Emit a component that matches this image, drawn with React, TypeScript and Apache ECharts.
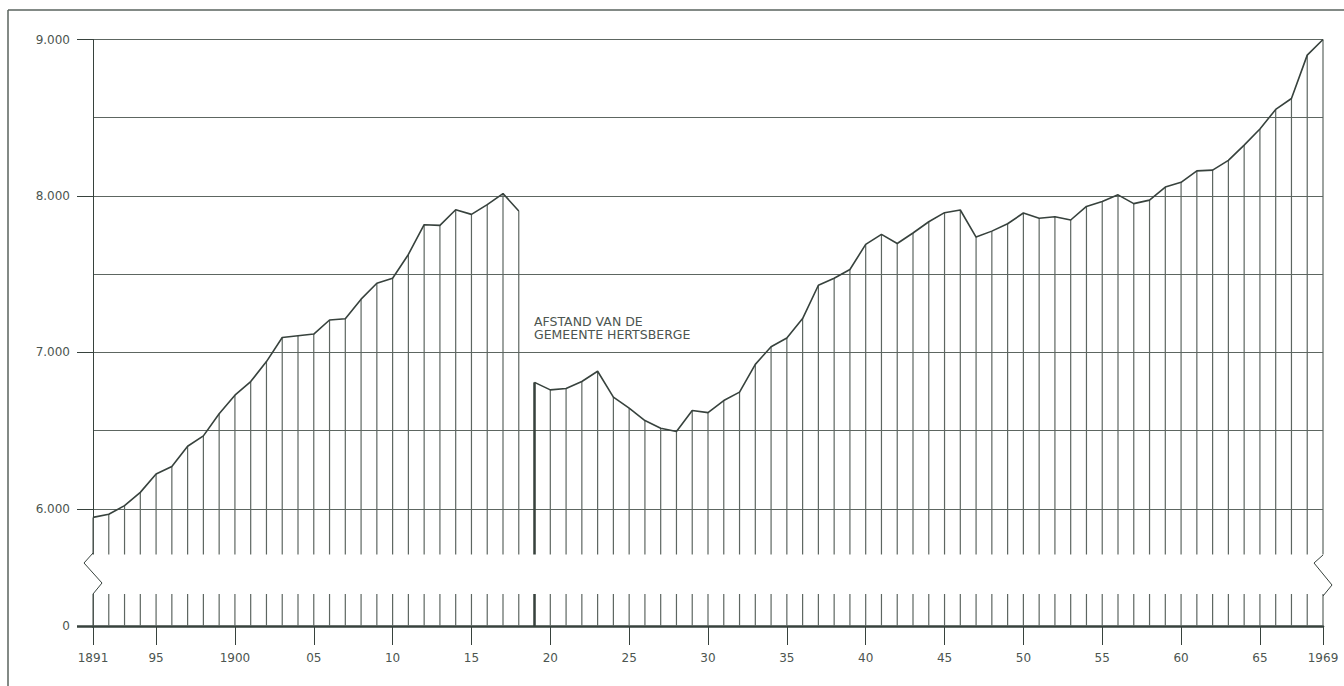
import React, { useEffect, useRef } from 'react';
import * as echarts from 'echarts';

// ---- data -------------------------------------------------------------
const years: string[] = [];
for (let y = 1891; y <= 1969; y++) years.push(String(y));

// inhabitants 1891 - 1918
const popBefore = [
  5945, 5965, 6020, 6105, 6222, 6270, 6400, 6466, 6608, 6726,
  6813, 6941, 7095, 7106, 7117, 7207, 7215, 7340, 7442, 7474,
  7626, 7816, 7812, 7912, 7882, 7944, 8015, 7904,
];
// inhabitants 1919 - 1969 (after the cession by Hertsberge)
const popAfter = [
  6808, 6760, 6769, 6814, 6879, 6714, 6643, 6564, 6515, 6494,
  6628, 6615, 6692, 6746, 6923, 7036, 7092, 7216, 7429, 7474,
  7530, 7690, 7754, 7696, 7763, 7835, 7893, 7910, 7737, 7775,
  7822, 7891, 7857, 7867, 7846, 7933, 7965, 8007, 7951, 7973,
  8057, 8087, 8160, 8165, 8227, 8325, 8428, 8553, 8623, 8900,
  9000,
];

const yTickValues = [6000, 7000, 8000, 9000];
const yTickLabels = ['6.000', '7.000', '8.000', '9.000'];
const xTickYears = ['1891', '1895', '1900', '1905', '1910', '1915', '1920', '1925', '1930',
  '1935', '1940', '1945', '1950', '1955', '1960', '1965', '1969'];
const xTickLabels = ['1891', '95', '1900', '05', '10', '15', '20', '25', '30',
  '35', '40', '45', '50', '55', '60', '65', '1969'];
const noteLines = ['AFSTAND VAN DE', 'GEMEENTE HERTSBERGE'];

// ---- styles -----------------------------------------------------------
const LINE = '#37423d';
const GRID = '#5d6661';
const TEXT = '#4c5550';
const FONT = 'DejaVu Sans, sans-serif';

export default function App() {
  const ref = useRef<HTMLDivElement>(null);

  useEffect(() => {
    if (!ref.current) return;
    const chart = echarts.init(ref.current, null, { renderer: 'svg' });

    const allValues = popBefore.concat(popAfter);
    const lineA = popBefore.slice();
    const lineB = (new Array(popBefore.length).fill(null) as (number | null)[]).concat(popAfter);
    const cessionYear = years[popBefore.length];

    const isTickYear = (_i: number, v: string) => xTickYears.indexOf(String(v)) >= 0;

    chart.setOption({
      animation: false,
      backgroundColor: '#ffffff',
      grid: [
        { left: 93, width: 1230, top: 39.5, height: 547.5 },
        { left: 93, width: 1230, top: 594, height: 32 },
      ],
      xAxis: [
        { gridIndex: 0, type: 'category', data: years, boundaryGap: false, show: false },
        {
          gridIndex: 1, type: 'category', data: years, boundaryGap: false,
          axisLine: { show: true, lineStyle: { color: LINE, width: 2.5 } },
          axisTick: { show: true, interval: isTickYear, length: 19, lineStyle: { color: LINE, width: 1 } },
          axisLabel: {
            interval: isTickYear,
            formatter: (v: string) => xTickLabels[xTickYears.indexOf(String(v))] ?? '',
            margin: 26, color: TEXT, fontFamily: FONT, fontSize: 12,
          },
          splitLine: { show: false },
        },
      ],
      yAxis: [
        {
          gridIndex: 0, type: 'value', min: 5500, max: 9000, interval: 500, position: 'left',
          axisLine: { show: true, lineStyle: { color: LINE, width: 1 } },
          axisTick: { show: true, customValues: yTickValues, length: 16, lineStyle: { color: LINE, width: 1 } },
          axisLabel: {
            customValues: yTickValues,
            formatter: (v: number) => yTickLabels[yTickValues.indexOf(v)] ?? '',
            margin: 23, color: TEXT, fontFamily: FONT, fontSize: 12,
          },
          splitLine: { show: false },
        },
        {
          gridIndex: 1, type: 'value', min: 0, max: 200, position: 'left',
          axisLine: { show: true, lineStyle: { color: LINE, width: 1 } },
          axisTick: { show: true, customValues: [0], length: 16, lineStyle: { color: LINE, width: 2.5 } },
          axisLabel: {
            customValues: [0], formatter: () => '0',
            margin: 23, color: TEXT, fontFamily: FONT, fontSize: 12,
          },
          splitLine: { show: false },
        },
        {
          // grid lines every 500 inhabitants
          gridIndex: 0, type: 'value', min: 5500, max: 9000, interval: 500, position: 'right',
          axisLine: { show: false }, axisTick: { show: false }, axisLabel: { show: false },
          splitLine: { show: true, showMinLine: false, lineStyle: { color: GRID, width: 1 } },
        },
      ],
      series: [
        {
          type: 'bar', xAxisIndex: 0, yAxisIndex: 0, data: allValues, barWidth: 1.2,
          itemStyle: { color: GRID }, z: 2,
          markLine: {
            silent: true, symbol: 'none', label: { show: false },
            lineStyle: { color: LINE, width: 2.5, type: 'solid' },
            data: [[{ coord: [cessionYear, popAfter[0]] }, { coord: [cessionYear, 5500] }]],
          },
        },
        {
          type: 'bar', xAxisIndex: 1, yAxisIndex: 1, data: allValues, barWidth: 1.2,
          itemStyle: { color: GRID }, z: 2, clip: true,
          markLine: {
            silent: true, symbol: 'none', label: { show: false },
            lineStyle: { color: LINE, width: 2.5, type: 'solid' },
            data: [[{ coord: [cessionYear, 0] }, { coord: [cessionYear, 200] }]],
          },
        },
        {
          type: 'line', xAxisIndex: 0, yAxisIndex: 0, data: lineA, symbol: 'none',
          lineStyle: { color: LINE, width: 1.6 }, z: 4, clip: false,
        },
        {
          type: 'line', xAxisIndex: 0, yAxisIndex: 0, data: lineB, symbol: 'none',
          lineStyle: { color: LINE, width: 1.6 }, z: 4, clip: false,
        },
      ],
      graphic: [
        { type: 'line', shape: { x1: 8, y1: 10, x2: 1344, y2: 10 }, style: { stroke: '#5a635e', lineWidth: 1.5 } },
        { type: 'line', shape: { x1: 8, y1: 10, x2: 8, y2: 686 }, style: { stroke: '#5a635e', lineWidth: 1.5 } },
        { type: 'rect', shape: { x: 72, y: 554.5, width: 1270, height: 39 }, style: { fill: '#ffffff' }, z: 100 },
        {
          type: 'polyline', shape: { points: [[93, 553], [84, 563], [102, 583], [93, 594]] },
          style: { stroke: LINE, fill: 'none', lineWidth: 1 }, z: 101,
        },
        {
          type: 'polyline', shape: { points: [[1323, 555], [1314, 563], [1332, 585], [1323, 596]] },
          style: { stroke: LINE, fill: 'none', lineWidth: 1 }, z: 101,
        },
        {
          type: 'text', left: 534, top: 315, z: 101,
          style: { text: noteLines.join('\n'), fill: TEXT, font: `12.5px ${FONT}`, lineHeight: 13 },
        },
      ],
    });

    return () => chart.dispose();
  }, []);

  return (
    <div
      ref={ref}
      style={{ position: 'fixed', left: 0, top: 0, width: 1344, height: 686, background: '#fff' }}
    />
  );
}
